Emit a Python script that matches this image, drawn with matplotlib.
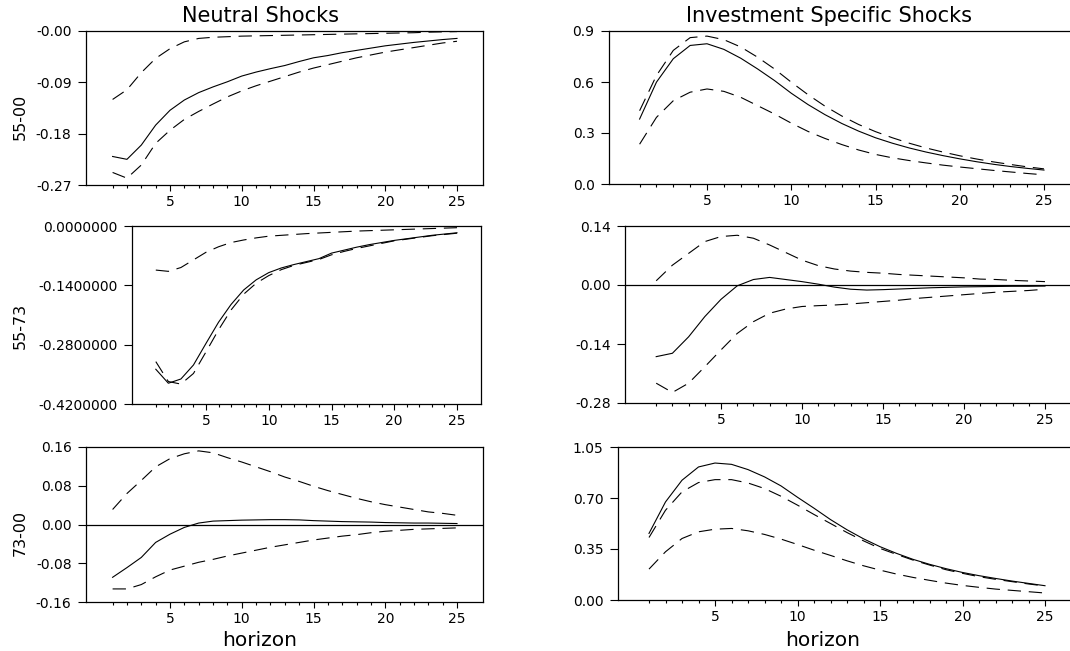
import matplotlib
matplotlib.use("Agg")
import matplotlib.pyplot as plt
from matplotlib.ticker import FixedLocator, FixedFormatter

plt.rcParams['font.family'] = ['DejaVu Sans']

# ---------------- data ----------------
horizon = [1, 2, 3, 4, 5, 6, 7, 8, 9, 10, 11, 12, 13, 14, 15, 16, 17, 18, 19, 20, 21, 22, 23, 24, 25]

col_titles = ["Neutral Shocks", "Investment Specific Shocks"]
row_labels = ["55-00", "55-73", "73-00"]
x_label = "horizon"

# 55-00, neutral shocks
n5500_mid = [-0.220, -0.225, -0.200, -0.165, -0.139, -0.121, -0.108, -0.098, -0.089, -0.079,
             -0.072, -0.066, -0.0605, -0.0535, -0.047, -0.043, -0.038, -0.034, -0.030, -0.026,
             -0.023, -0.020, -0.0175, -0.015, -0.013]
n5500_hi = [-0.120, -0.103, -0.073, -0.048, -0.031, -0.019, -0.013, -0.011, -0.010, -0.009,
            -0.0085, -0.008, -0.0075, -0.007, -0.0065, -0.006, -0.0055, -0.005, -0.0045, -0.004,
            -0.0035, -0.003, -0.002, -0.0015, -0.001]
n5500_lo = [-0.248, -0.258, -0.235, -0.197, -0.174, -0.155, -0.141, -0.128, -0.1155, -0.105,
            -0.096, -0.088, -0.080, -0.072, -0.065, -0.059, -0.053, -0.047, -0.042, -0.037,
            -0.033, -0.029, -0.025, -0.021, -0.018]

# 55-00, investment specific shocks
i5500_mid = [0.382, 0.599, 0.737, 0.815, 0.825, 0.792, 0.740, 0.677, 0.609, 0.534,
             0.467, 0.408, 0.356, 0.311, 0.272, 0.240, 0.212, 0.188, 0.167, 0.148,
             0.131, 0.116, 0.103, 0.092, 0.082]
i5500_hi = [0.431, 0.638, 0.786, 0.861, 0.870, 0.849, 0.806, 0.746, 0.677, 0.599,
            0.525, 0.458, 0.400, 0.350, 0.308, 0.272, 0.240, 0.212, 0.188, 0.166,
            0.147, 0.130, 0.115, 0.101, 0.089]
i5500_lo = [0.234, 0.392, 0.490, 0.540, 0.559, 0.545, 0.510, 0.461, 0.412, 0.358,
            0.309, 0.268, 0.232, 0.200, 0.174, 0.154, 0.138, 0.124, 0.111, 0.100,
            0.090, 0.080, 0.071, 0.062, 0.054]

# 55-73, neutral shocks
n5573_mid = [-0.338, -0.371, -0.361, -0.328, -0.277, -0.227, -0.185, -0.151, -0.127, -0.110,
             -0.099, -0.091, -0.084, -0.077, -0.064, -0.057, -0.050, -0.044, -0.039, -0.034,
             -0.030, -0.026, -0.022, -0.019, -0.016]
n5573_hi = [-0.104, -0.107, -0.098, -0.080, -0.062, -0.049, -0.039, -0.033, -0.028, -0.024,
            -0.022, -0.020, -0.018, -0.0165, -0.015, -0.0135, -0.012, -0.011, -0.010, -0.009,
            -0.008, -0.007, -0.006, -0.005, -0.004]
n5573_lo = [-0.320, -0.367, -0.373, -0.348, -0.297, -0.245, -0.198, -0.161, -0.135, -0.117,
            -0.103, -0.093, -0.086, -0.079, -0.068, -0.060, -0.053, -0.047, -0.041, -0.035,
            -0.031, -0.027, -0.023, -0.020, -0.017]

# 55-73, investment specific shocks
i5573_mid = [-0.170, -0.162, -0.123, -0.075, -0.034, -0.002, 0.013, 0.018, 0.013, 0.008,
             0.002, -0.005, -0.010, -0.012, -0.011, -0.0095, -0.008, -0.0065, -0.0055, -0.0045,
             -0.004, -0.0035, -0.003, -0.003, -0.0025]
i5573_hi = [0.010, 0.047, 0.075, 0.103, 0.115, 0.118, 0.111, 0.095, 0.077, 0.059,
            0.046, 0.038, 0.033, 0.030, 0.028, 0.025, 0.023, 0.021, 0.019, 0.017,
            0.014, 0.013, 0.011, 0.0095, 0.008]
i5573_lo = [-0.233, -0.255, -0.233, -0.194, -0.154, -0.115, -0.087, -0.067, -0.057, -0.051,
            -0.049, -0.0475, -0.045, -0.042, -0.039, -0.036, -0.032, -0.029, -0.026, -0.023,
            -0.020, -0.017, -0.015, -0.013, -0.010]

# 73-00, neutral shocks
n7300_mid = [-0.109, -0.089, -0.068, -0.037, -0.020, -0.006, 0.003, 0.007, 0.008, 0.009,
             0.0095, 0.010, 0.010, 0.0095, 0.008, 0.007, 0.006, 0.0055, 0.005, 0.004,
             0.0035, 0.003, 0.003, 0.0025, 0.002]
n7300_hi = [0.031, 0.064, 0.091, 0.119, 0.136, 0.146, 0.152, 0.148, 0.138, 0.129,
            0.119, 0.109, 0.098, 0.089, 0.079, 0.070, 0.062, 0.054, 0.047, 0.041,
            0.036, 0.031, 0.026, 0.023, 0.019]
n7300_lo = [-0.133, -0.133, -0.124, -0.108, -0.094, -0.086, -0.078, -0.072, -0.065, -0.059,
            -0.053, -0.047, -0.042, -0.037, -0.032, -0.028, -0.024, -0.021, -0.017, -0.014,
            -0.012, -0.010, -0.009, -0.008, -0.007]

# 73-00, investment specific shocks
i7300_mid = [0.457, 0.673, 0.822, 0.913, 0.940, 0.931, 0.895, 0.845, 0.783, 0.705,
             0.630, 0.552, 0.482, 0.420, 0.366, 0.320, 0.279, 0.245, 0.215, 0.189,
             0.167, 0.148, 0.130, 0.114, 0.098]
i7300_hi = [0.429, 0.616, 0.742, 0.806, 0.826, 0.826, 0.803, 0.765, 0.712, 0.651,
            0.587, 0.525, 0.463, 0.406, 0.354, 0.313, 0.274, 0.240, 0.208, 0.183,
            0.160, 0.142, 0.126, 0.110, 0.096]
i7300_lo = [0.212, 0.331, 0.422, 0.468, 0.486, 0.491, 0.475, 0.450, 0.418, 0.381,
            0.342, 0.306, 0.269, 0.235, 0.205, 0.178, 0.155, 0.135, 0.116, 0.100,
            0.087, 0.075, 0.066, 0.057, 0.048]

# y ticks and labels per panel
yt_n5500 = [-0.27, -0.18, -0.09, 0.0]
yl_n5500 = ["-0.27", "-0.18", "-0.09", "-0.00"]
yt_i5500 = [0.0, 0.3, 0.6, 0.9]
yl_i5500 = ["0.0", "0.3", "0.6", "0.9"]
yt_n5573 = [-0.42, -0.28, -0.14, 0.0]
yl_n5573 = ["-0.4200000", "-0.2800000", "-0.1400000", "0.0000000"]
yt_i5573 = [-0.28, -0.14, 0.0, 0.14]
yl_i5573 = ["-0.28", "-0.14", "0.00", "0.14"]
yt_n7300 = [-0.16, -0.08, 0.0, 0.08, 0.16]
yl_n7300 = ["-0.16", "-0.08", "0.00", "0.08", "0.16"]
yt_i7300 = [0.0, 0.35, 0.70, 1.05]
yl_i7300 = ["0.00", "0.35", "0.70", "1.05"]

xt_major = [5, 10, 15, 20, 25]
xt_labels = ["5", "10", "15", "20", "25"]

# ---------------- layout (pixel boxes) ----------------
W, H = 1070, 651
fig = plt.figure(figsize=(W / 100, H / 100), dpi=100)

# (left, top, right, bottom, px of x=5, px of x=25, right-panel?)
boxes = [
    [(86, 31, 483, 185, 170, 457, False), (609, 31, 1090, 184, 707, 1044, True)],
    [(132, 226, 481, 404, 206, 457, False), (625, 226, 1090, 403, 721, 1045, True)],
    [(86, 447, 483, 602, 170, 457, False), (618, 447, 1090, 600, 715, 1045, True)],
]

panels = [
    [(n5500_mid, n5500_hi, n5500_lo, yt_n5500, yl_n5500, False),
     (i5500_mid, i5500_hi, i5500_lo, yt_i5500, yl_i5500, False)],
    [(n5573_mid, n5573_hi, n5573_lo, yt_n5573, yl_n5573, False),
     (i5573_mid, i5573_hi, i5573_lo, yt_i5573, yl_i5573, True)],
    [(n7300_mid, n7300_hi, n7300_lo, yt_n7300, yl_n7300, True),
     (i7300_mid, i7300_hi, i7300_lo, yt_i7300, yl_i7300, False)],
]

LW = 0.8
DASH = (12, 7)

for r in range(3):
    for c in range(2):
        l, t, rr, b, p5, p25, is_right = boxes[r][c]
        mid, hi, lo, yt, yl, zero = panels[r][c]
        ax = fig.add_axes([l / W, 1 - b / H, (rr - l) / W, (b - t) / H])
        u = (p25 - p5) / 20.0
        ax.set_xlim(5 - (p5 - l) / u, 25 + (rr - p25) / u)
        ax.set_ylim(yt[0], yt[-1])

        if zero:
            ax.axhline(0, color='black', lw=0.9, zorder=1)
        ax.plot(horizon, mid, color='black', lw=LW, zorder=3)
        ax.plot(horizon, hi, color='black', lw=LW, dashes=DASH, zorder=3)
        ax.plot(horizon, lo, color='black', lw=LW, dashes=DASH, zorder=3)

        ax.yaxis.set_major_locator(FixedLocator(yt))
        ax.yaxis.set_major_formatter(FixedFormatter(yl))
        ax.xaxis.set_major_locator(FixedLocator(xt_major))
        ax.xaxis.set_major_formatter(FixedFormatter(xt_labels))
        ax.xaxis.set_minor_locator(FixedLocator(horizon))

        ax.tick_params(axis='y', direction='out', length=6.1, width=0.8,
                       pad=4.3, labelsize=10, colors='black')
        ax.tick_params(axis='x', which='major', direction='out', length=4.3,
                       width=0.8, pad=3.0, labelsize=10)
        ax.tick_params(axis='x', which='minor', direction='out', length=2.5,
                       width=0.8)
        for s in ax.spines.values():
            s.set_linewidth(0.9)
            s.set_color('black')
        if is_right:
            ax.spines['right'].set_visible(False)

# titles, axis labels
fig.text(260 / W, 1 - 16 / H, col_titles[0], ha='center', va='center', fontsize=15)
fig.text(829 / W, 1 - 16 / H, col_titles[1], ha='center', va='center', fontsize=15)
fig.text(260 / W, 1 - 640 / H, x_label, ha='center', va='center', fontsize=14.5)
fig.text(823 / W, 1 - 640 / H, x_label, ha='center', va='center', fontsize=14.5)
for lab, yc in zip(row_labels, [117, 326, 533]):
    fig.text(20 / W, 1 - yc / H, lab, ha='center', va='center', rotation=90, fontsize=11.5)

fig.savefig("out.png", dpi=100)
